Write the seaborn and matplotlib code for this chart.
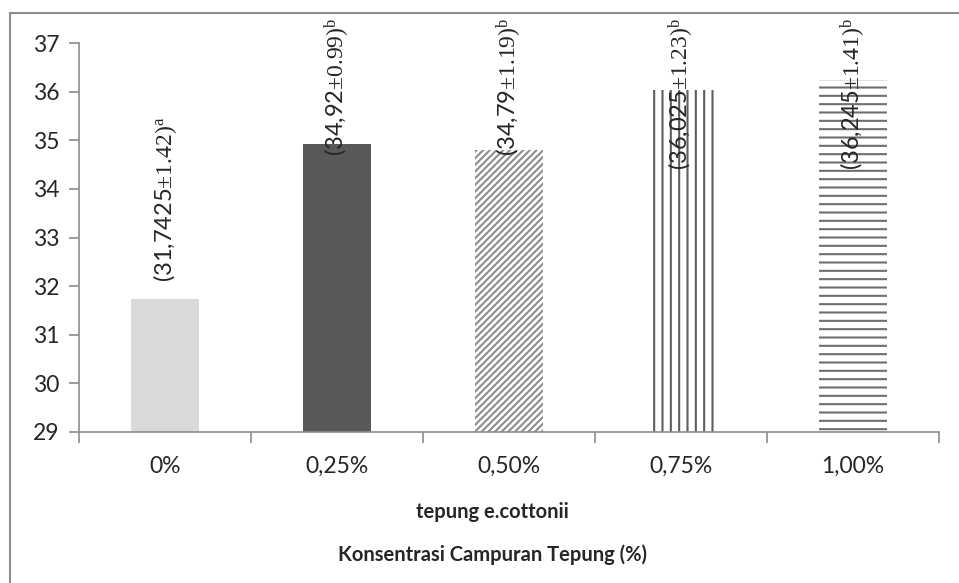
import matplotlib
matplotlib.use("Agg")
import matplotlib.pyplot as plt
import matplotlib.patches as mpatches
import seaborn as sns
import pandas as pd

# data
categories = ["0%", "0,25%", "0,50%", "0,75%", "1,00%"]
values = [31.7425, 34.92, 34.79, 36.025, 36.245]
sd_text = ["1.42", "0.99", "1.19", "1.23", "1.41"]
value_text = ["31,7425", "34,92", "34,79", "36,025", "36,245"]
letters = ["a", "b", "b", "b", "b"]

df = pd.DataFrame({"konsentrasi": categories, "nilai": values})

sns.set_theme(style="white")
plt.rcParams["font.family"] = ["Lato", "DejaVu Sans"]
plt.rcParams["mathtext.fontset"] = "custom"
plt.rcParams["mathtext.rm"] = "Liberation Serif"
plt.rcParams["mathtext.it"] = "Liberation Serif:italic"
plt.rcParams["hatch.linewidth"] = 1.5

fig = plt.figure(figsize=(9.59, 5.83), dpi=100)
ax = fig.add_axes([79 / 959, 1 - 432 / 583, 860 / 959, 389 / 583])

sns.barplot(data=df, x="konsentrasi", y="nilai", hue="konsentrasi",
            palette=["#d9d9d9", "#595959", "white", "white", "white"],
            width=0.4, legend=False, ax=ax, saturation=1)

# Excel-like fill patterns
styles = [
    dict(hatch=None, ec="none"),
    dict(hatch=None, ec="none"),
    dict(hatch="/////", ec="#8c8c8c"),
    dict(hatch="||", ec="#5e5e5e"),
    dict(hatch="--", ec="#6e6e6e"),
]
for patch, st in zip(ax.patches, styles):
    patch.set_edgecolor(st["ec"])
    patch.set_linewidth(0)
    if st["hatch"]:
        patch.set_hatch(st["hatch"])

ax.set_ylim(29, 37)
ax.set_yticks(range(29, 38))
ax.set_xlim(-0.5, 4.5)
ax.set_xlabel("")
ax.set_ylabel("")

for s in ["top", "right"]:
    ax.spines[s].set_visible(False)
for s in ["left", "bottom"]:
    ax.spines[s].set_color("#8c8c8c")
    ax.spines[s].set_linewidth(1.2)

ax.tick_params(axis="y", length=7, width=1.2, color="#8c8c8c", labelsize=16.5, pad=7, left=True)
ax.set_xticks([x + 0.5 for x in range(-1, 5)], minor=True)
ax.tick_params(axis="x", which="minor", length=8, width=1.2, color="#8c8c8c", bottom=True)
ax.tick_params(axis="x", which="major", length=0, labelsize=16.5, pad=17)

# value labels, rotated like the Excel data labels
for i, v in enumerate(values):
    label = "(" + value_text[i] + r"$\mathrm{\pm" + sd_text[i] + ")}^{\mathrm{" + letters[i] + "}}$"
    if i == 0:
        ax.text(i, v + 0.35, label, rotation=90, ha="center", va="bottom",
                fontsize=17, clip_on=False)
    else:
        ax.text(i, 37.52, label, rotation=90, ha="center", va="top",
                fontsize=17, clip_on=False)

fig.text(492 / 959, 1 - 512 / 583, "tepung e.cottonii", ha="center", va="center",
         fontsize=14.5, fontweight="bold")
fig.text(492 / 959, 1 - 555 / 583, "Konsentrasi Campuran Tepung (%)", ha="center",
         va="center", fontsize=14.5, fontweight="bold")

# outer chart frame (cut at right and bottom like the reference)
frame = mpatches.Rectangle((10 / 959, -0.1), 1.1, 1.1 - 13 / 583,
                           transform=fig.transFigure, fill=False,
                           ec="#8c8c8c", lw=1.5)
fig.patches.append(frame)

fig.savefig("out.png", dpi=100)
